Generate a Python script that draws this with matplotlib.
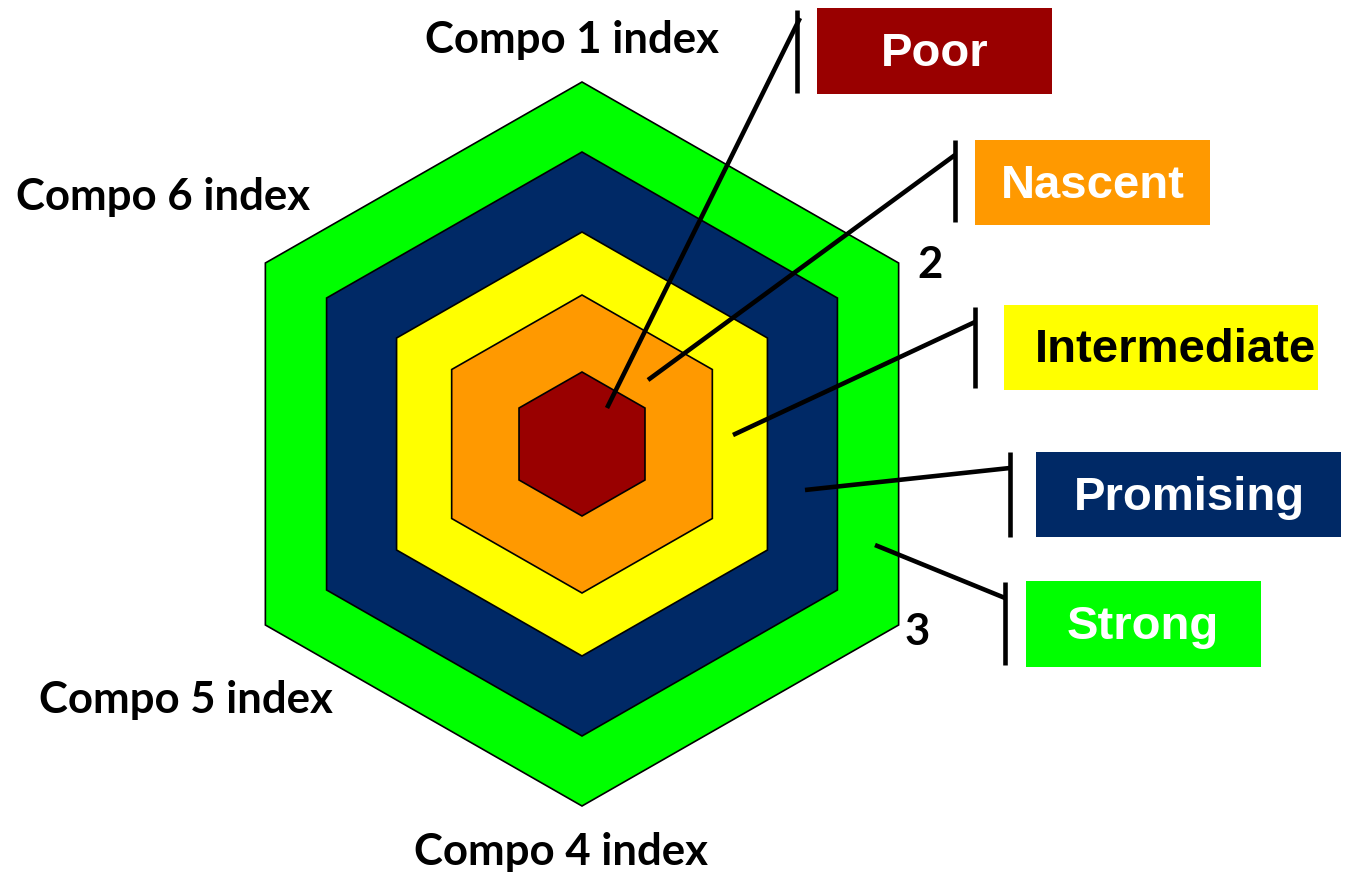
import numpy as np
import matplotlib.pyplot as plt
from matplotlib.patches import Polygon, Rectangle

# levels from outside to inside
levels = ["Strong", "Promising", "Intermediate", "Nascent", "Poor"]
radii = [362, 292, 212, 149, 72]
colors = ["#00FF00", "#002966", "#FFFF00", "#FF9900", "#990000"]
text_colors = ["white", "white", "black", "white", "white"]

axis_labels = ["Compo 1 index", "2", "3", "Compo 4 index", "Compo 5 index", "Compo 6 index"]
axis_label_pos = [(572, 40), (930, 265), (917, 632), (561, 852), (186, 700), (163, 197)]

# legend boxes (x0, y0, x1, y1) in pixel coords, text centre x, leader start points
box_pos = {"Poor": (817, 8, 1052, 94), "Nascent": (975, 140, 1210, 225),
           "Intermediate": (1004, 305, 1318, 390), "Promising": (1036, 452, 1341, 537),
           "Strong": (1026, 581, 1261, 667)}
text_x = {"Poor": 935, "Nascent": 1093, "Intermediate": 1175, "Promising": 1189, "Strong": 1143}
bar_pos = {"Poor": (797, 10, 93, 800, 18), "Nascent": (955, 140, 222, 955, 155),
           "Intermediate": (975, 307, 388, 975, 322), "Promising": (1010, 452, 537, 1010, 468),
           "Strong": (1005, 582, 665, 1005, 598)}
leader_start = {"Poor": (607, 408), "Nascent": (648, 380), "Intermediate": (733, 435),
                "Promising": (805, 490), "Strong": (875, 545)}

cx, cy = 582, 444

fig = plt.figure(figsize=(13.45, 8.75), dpi=100)
ax = fig.add_axes([0, 0, 1, 1])
ax.set_xlim(0, 1345)
ax.set_ylim(875, 0)
ax.axis("off")

ang = np.deg2rad([90, 30, -30, -90, -150, 150])
for r, c in zip(radii, colors):
    xs = cx + r * 1.01 * np.cos(ang)
    ys = cy - r * np.sin(ang)
    ax.add_patch(Polygon(np.column_stack([xs, ys]), closed=True, fc=c, ec="black", lw=1.2))

for lab, (x, y) in zip(axis_labels, axis_label_pos):
    ax.text(x, y, lab, ha="center", va="center", fontsize=31.5, fontweight="bold",
            family="Lato", color="black")

for lev, c, tc in zip(levels, colors, text_colors):
    x0, y0, x1, y1 = box_pos[lev]
    ax.add_patch(Rectangle((x0, y0), x1 - x0, y1 - y0, fc=c, ec="none"))
    ax.text(text_x[lev], (y0 + y1) / 2 + 3, lev, ha="center", va="center", fontsize=34,
            fontweight="bold", family="Liberation Sans", color=tc)
    bx, by0, by1, ex, ey = bar_pos[lev]
    ax.plot([bx, bx], [by0, by1], color="black", lw=3.3, solid_capstyle="butt")
    sx, sy = leader_start[lev]
    ax.plot([sx, ex], [sy, ey], color="black", lw=3.3, solid_capstyle="butt")

fig.savefig("out.png", dpi=100)
